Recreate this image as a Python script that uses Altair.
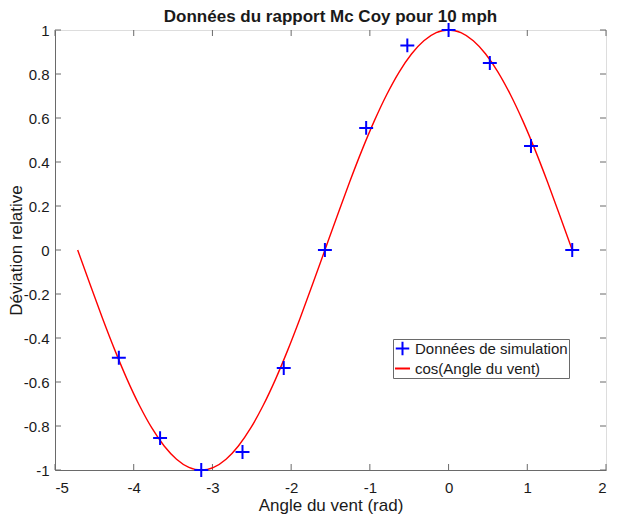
import altair as alt
import pandas as pd

# Courbe cos(Angle du vent)
curve_x = [-4.712, -4.555, -4.398, -4.241, -4.084, -3.927, -3.770, -3.613, -3.456, -3.299,
           -3.142, -2.985, -2.827, -2.670, -2.513, -2.356, -2.199, -2.042, -1.885, -1.728,
           -1.571, -1.414, -1.257, -1.100, -0.942, -0.785, -0.628, -0.471, -0.314, -0.157,
           0.000, 0.157, 0.314, 0.471, 0.628, 0.785, 0.942, 1.100, 1.257, 1.414, 1.571]
curve_y = [0.000, -0.156, -0.309, -0.454, -0.588, -0.707, -0.809, -0.891, -0.951, -0.988,
           -1.000, -0.988, -0.951, -0.891, -0.809, -0.707, -0.588, -0.454, -0.309, -0.156,
           0.000, 0.156, 0.309, 0.454, 0.588, 0.707, 0.809, 0.891, 0.951, 0.988,
           1.000, 0.988, 0.951, 0.891, 0.809, 0.707, 0.588, 0.454, 0.309, 0.156, 0.000]

# Données de simulation
sim_x = [-4.189, -3.665, -3.142, -2.618, -2.094, -1.571, -1.047, -0.524, 0.000, 0.524, 1.047, 1.571]
sim_y = [-0.49, -0.855, -1.0, -0.918, -0.536, 0.0, 0.555, 0.93, 1.0, 0.85, 0.473, 0.0]

x_ticks = [-5, -4, -3, -2, -1, 0, 1, 2]
y_ticks = [-1, -0.8, -0.6, -0.4, -0.2, 0, 0.2, 0.4, 0.6, 0.8, 1]

series_names = ["Données de simulation", "cos(Angle du vent)"]
series_colors = ["#0000ff", "#ff0000"]

title_text = "Données du rapport Mc Coy pour 10 mph"
x_title = "Angle du vent (rad)"
y_title = "Déviation relative"

curve = pd.DataFrame({"x": curve_x, "y": curve_y})
sim = pd.DataFrame({"x": sim_x, "y": sim_y, "series": series_names[0]})
xt = pd.DataFrame({"v": x_ticks})
yt = pd.DataFrame({"v": y_ticks})

W, H = 551, 440
FONT = "Liberation Sans"
AXIS_GRAY = "#6a6a6a"
TEXT = "#1a1a1a"
TICK = 6

xscale = alt.Scale(domain=[-5, 2], nice=False, zero=False)
yscale = alt.Scale(domain=[-1, 1], nice=False, zero=False)
PLUS = "M-0.9,0H0.9M0,-0.9V0.9"

x_axis = alt.Axis(values=x_ticks, title=x_title, grid=False, ticks=False,
                  labelExpr="'' + datum.value", labelPadding=10,
                  titleY=40, titleBaseline="alphabetic",
                  domainColor=AXIS_GRAY, labelColor=TEXT, titleColor=TEXT,
                  labelFontSize=15, titleFontSize=17, titleFontWeight="normal",
                  labelFont=FONT, titleFont=FONT)
y_axis = alt.Axis(values=y_ticks, title=y_title, grid=False, ticks=False,
                  labelExpr="'' + datum.value", labelPadding=6,
                  titleX=-39, titleY=H / 2, titleBaseline="middle", titleAngle=270,
                  domainColor=AXIS_GRAY, labelColor=TEXT, titleColor=TEXT,
                  labelFontSize=15, titleFontSize=17, titleFontWeight="normal",
                  labelFont=FONT, titleFont=FONT)

line = alt.Chart(curve).mark_line(color=series_colors[1], strokeWidth=1.4,
                                  interpolate="monotone", clip=True).encode(
    x=alt.X("x:Q", scale=xscale, axis=x_axis),
    y=alt.Y("y:Q", scale=yscale, axis=y_axis),
)

legend = alt.Legend(orient="none", legendX=338, legendY=309, title=None,
                    strokeColor=AXIS_GRAY, fillColor="white", padding=1,
                    labelFont=FONT, labelFontSize=15, labelColor=TEXT,
                    symbolSize=225, symbolStrokeWidth=2, labelOffset=4,
                    rowPadding=0, cornerRadius=0)

points = alt.Chart(sim).mark_point(filled=False, size=240, strokeWidth=2, opacity=1).encode(
    x=alt.X("x:Q", scale=xscale),
    y=alt.Y("y:Q", scale=yscale),
    color=alt.Color("series:N", scale=alt.Scale(domain=series_names, range=series_colors),
                    legend=legend),
    shape=alt.Shape("series:N", scale=alt.Scale(domain=series_names, range=[PLUS, "stroke"]),
                    legend=legend),
)

tick_style = dict(color=AXIS_GRAY, strokeWidth=1)
bottom_ticks = alt.Chart(xt).mark_rule(**tick_style).encode(
    x=alt.X("v:Q", scale=xscale), y=alt.value(H), y2=alt.value(H - TICK))
top_ticks = alt.Chart(xt).mark_rule(**tick_style).encode(
    x=alt.X("v:Q", scale=xscale), y=alt.value(0), y2=alt.value(TICK))
left_ticks = alt.Chart(yt).mark_rule(**tick_style).encode(
    y=alt.Y("v:Q", scale=yscale), x=alt.value(0), x2=alt.value(TICK))
right_ticks = alt.Chart(yt).mark_rule(**tick_style).encode(
    y=alt.Y("v:Q", scale=yscale), x=alt.value(W), x2=alt.value(W - TICK))

chart = alt.layer(bottom_ticks, top_ticks, left_ticks, right_ticks, line, points).properties(
    width=W, height=H,
    title=alt.Title(title_text, font=FONT, fontSize=17, fontWeight="bold", color=TEXT,
                    offset=5, dy=12, anchor="middle"),
    autosize=alt.AutoSizeParams(type="none"),
    padding={"left": 47, "top": 22, "right": 5, "bottom": 44},
).configure_view(stroke=AXIS_GRAY, strokeWidth=1).configure(background="white")

chart.save("out.html", embed_options={"renderer": "svg", "actions": False})
